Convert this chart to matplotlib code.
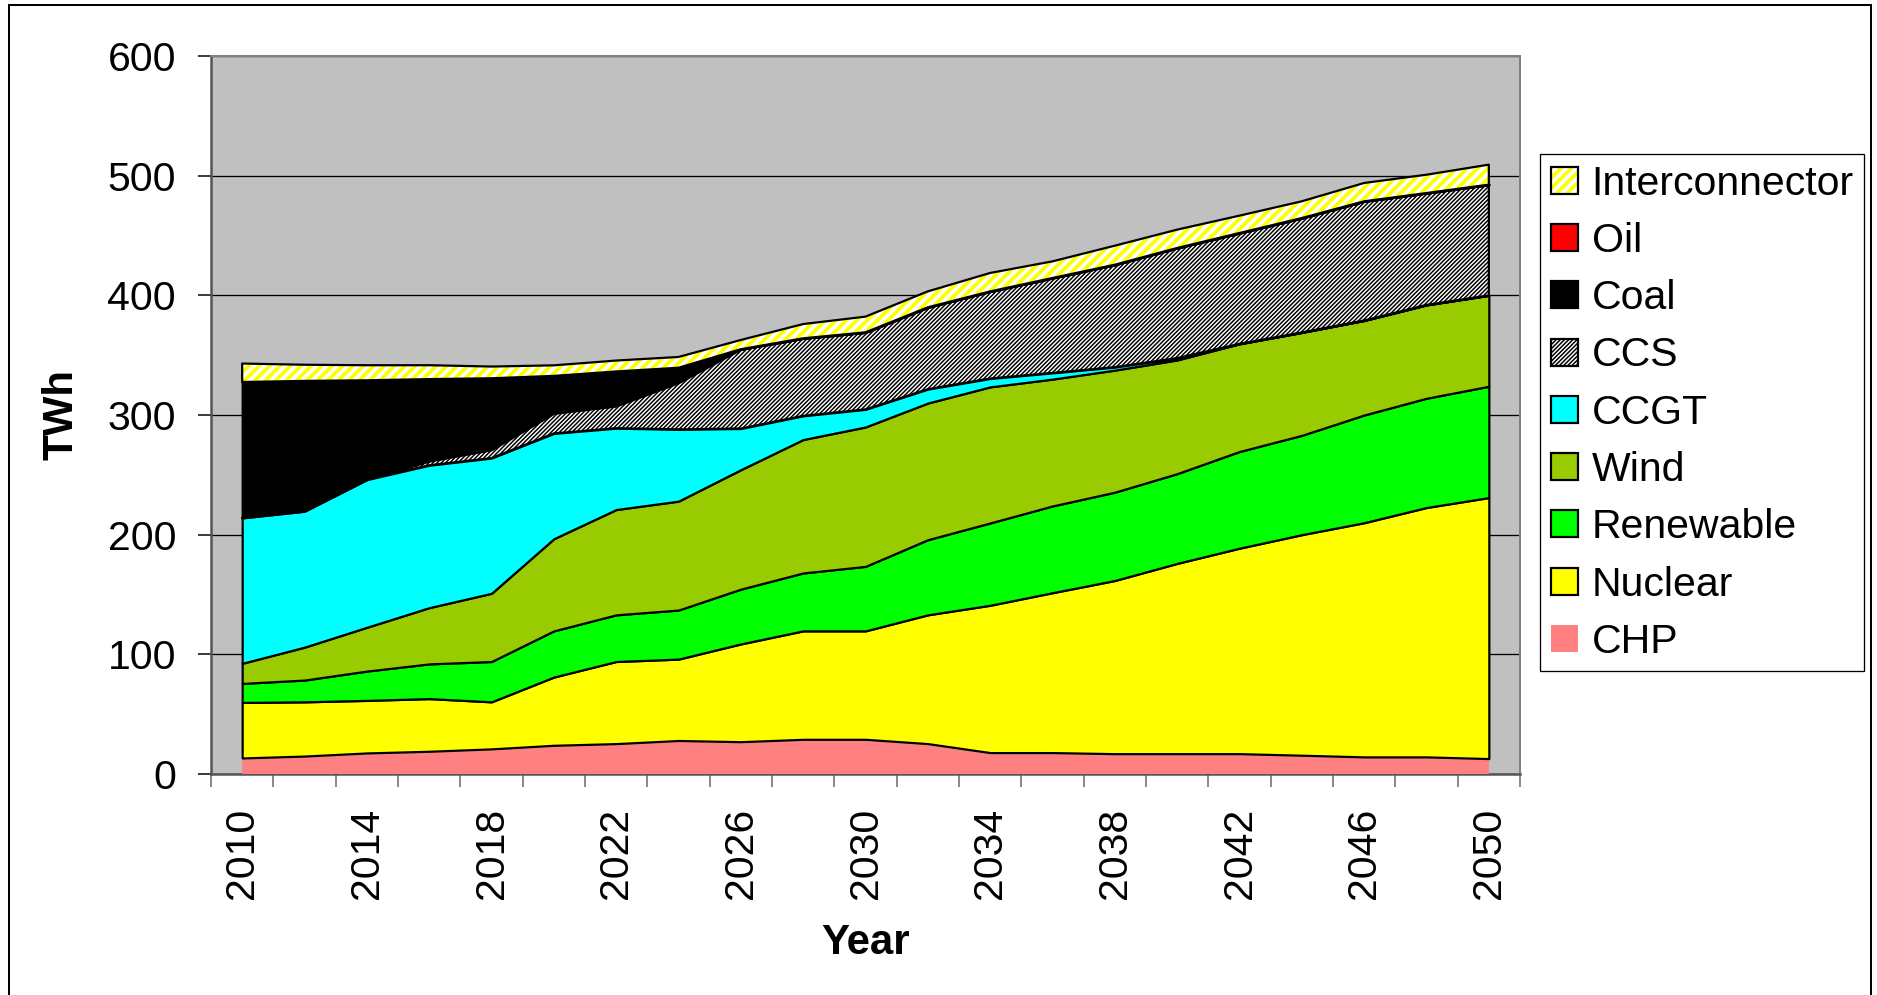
import matplotlib.pyplot as plt
import numpy as np
from matplotlib.patches import Patch, Rectangle
from matplotlib.legend_handler import HandlerTuple

W, H, DPI = 1877, 995, 125


def P(px):
    # pixels -> points at the output dpi
    return px * 72.0 / DPI


years = list(range(2010, 2051, 2))

chp = [13.4, 15.0, 17.6, 19.0, 21.0, 24.0, 25.4, 28.0, 27.0, 29.0, 29.0,
       25.4, 17.9, 17.9, 17.0, 17.0, 17.0, 15.7, 14.3, 14.3, 12.9]
nuclear = [46.4, 45.3, 43.9, 44.0, 39.3, 57.0, 68.6, 68.0, 81.7, 90.6, 90.6,
           107.6, 123.1, 133.6, 144.7, 159.0, 171.7, 184.3, 195.7, 208.4, 218.1]
renewable = [15.9, 18.2, 24.5, 29.0, 33.7, 38.6, 39.0, 41.0, 45.8, 48.4, 53.9,
             62.8, 68.8, 72.5, 73.8, 75.0, 80.8, 83.0, 90.0, 91.3, 93.0]
wind = [16.8, 27.5, 36.6, 47.0, 57.0, 77.0, 88.0, 91.0, 99.8, 111.5, 116.5,
        114.2, 113.7, 106.0, 102.0, 95.0, 90.0, 86.0, 79.0, 78.0, 76.0]
ccgt = [121.5, 113.6, 123.4, 119.0, 113.0, 88.0, 68.0, 60.0, 34.4, 19.8, 14.7,
        11.6, 7.0, 5.2, 2.5, 1.6, 0, 0, 0, 0, 0]
ccs = [0, 0, 0, 3.5, 7.0, 16.8, 18.5, 39.0, 66.3, 64.8, 64.4,
       68.4, 72.8, 79.3, 85.6, 92.0, 92.6, 95.6, 99.6, 93.5, 92.5]
coal = [113.6, 108.9, 83.0, 68.5, 59.7, 31.3, 28.9, 12.5, 0, 0, 0,
        0, 0, 0, 0, 0, 0, 0, 0, 0, 0]
oil = [0] * 21
interconnector = [15.4, 13.5, 12.6, 11.6, 9.8, 8.8, 9.1, 9.0, 7.7, 11.9, 13.1,
                  13.3, 15.4, 13.9, 15.9, 15.3, 14.5, 14.0, 15.3, 15.3, 16.7]

# name, values, colour, hatch (bottom to top)
layers = [
    ("CHP", chp, "#FF8080", None),
    ("Nuclear", nuclear, "#FFFF00", None),
    ("Renewable", renewable, "#00FF00", None),
    ("Wind", wind, "#99CC00", None),
    ("CCGT", ccgt, "#00FFFF", None),
    ("CCS", ccs, "black", "//////////"),
    ("Coal", coal, "black", None),
    ("Oil", oil, "#FF0000", None),
    ("Interconnector", interconnector, "#FFFF00", "////"),
]
# hatch stroke width in pixels
hatch_px = {"////": 3.8, "//////////": 1.5}

plt.rcParams['font.family'] = ['Liberation Sans', 'DejaVu Sans']

fig = plt.figure(figsize=(W / DPI, H / DPI), dpi=DPI)
ax = fig.add_axes([211 / W, 1 - 774 / H, (1520 - 211) / W, (774 - 56) / H])
ax.set_facecolor("#C0C0C0")

x = np.arange(len(years))
base = np.zeros(len(years))
edge_lw = P(2.2)
for name, vals, color, hatch in layers:
    top = base + np.array(vals, dtype=float)
    if hatch is None:
        ax.fill_between(x, base, top, facecolor=color,
                        edgecolor="none" if name == "CHP" else "black",
                        linewidth=0 if name == "CHP" else edge_lw, zorder=3)
    else:
        with plt.rc_context({"hatch.linewidth": P(hatch_px[hatch])}):
            ax.fill_between(x, base, top, facecolor="white", edgecolor=color,
                            linewidth=0, hatch=hatch, zorder=3)
        ax.fill_between(x, base, top, facecolor="none", edgecolor="black",
                        linewidth=edge_lw, zorder=3)
    base = top

ax.set_xlim(-0.5, len(years) - 0.5)
ax.set_ylim(0, 600)
ax.set_yticks(range(0, 601, 100))
ax.grid(axis="y", color="black", linewidth=P(1.3), zorder=1)
ax.set_axisbelow(True)

# category boundaries as major ticks, labels on every other category
ax.set_xticks(np.arange(-0.5, len(years), 1.0))
ax.set_xticklabels([])
ax.set_xticks(x[::2], minor=True)
ax.set_xticklabels([str(y) for y in years[::2]], minor=True, rotation=90)
ax.tick_params(axis="x", which="major", length=P(13), width=P(1.5), color="#666666", direction="out")
ax.tick_params(axis="x", which="minor", length=0, pad=P(34), labelsize=P(41))
ax.tick_params(axis="y", length=P(13), width=P(1.5), color="black", pad=P(22), labelsize=P(41))

for side in ["top", "right"]:
    ax.spines[side].set_color("#808080")
    ax.spines[side].set_linewidth(P(2))
for side in ["left", "bottom"]:
    ax.spines[side].set_color("#555555")
    ax.spines[side].set_linewidth(P(2.5))

ax.set_ylabel("TWh", fontsize=P(42), fontweight="bold", va="center")
ax.yaxis.set_label_coords((62 - 211) / (1520 - 211), 0.5)
ax.set_xlabel("Year", fontsize=P(42), fontweight="bold", va="center")
ax.xaxis.set_label_coords(0.5, (774 - 943) / (774 - 56))

# legend, top entry first
handles = []
labels = []
for name, vals, color, hatch in reversed(layers):
    if name == "Interconnector":
        h = (Patch(facecolor="white", edgecolor=color, linewidth=0, hatch=hatch),
             Patch(facecolor="none", edgecolor="black", linewidth=edge_lw))
    elif name == "CCS":
        h = Patch(facecolor="white", edgecolor="black", linewidth=edge_lw, hatch=hatch)
    elif name == "CHP":
        h = Patch(facecolor=color, edgecolor="none", linewidth=0)
    else:
        h = Patch(facecolor=color, edgecolor="black", linewidth=edge_lw)
    handles.append(h)
    labels.append(name)

leg = fig.legend(handles, labels, loc="upper left",
                 bbox_to_anchor=(1540 / W, 1 - 154 / H), bbox_transform=fig.transFigure,
                 borderaxespad=0, fontsize=P(41), handlelength=27 / 41, handleheight=26 / 41,
                 handletextpad=14 / 41, labelspacing=0.47, borderpad=0.26,
                 fancybox=False, framealpha=1, edgecolor="black",
                 handler_map={tuple: HandlerTuple(ndivide=1, pad=0)})
leg.get_frame().set_linewidth(P(1.3))
for art in leg.findobj(match=lambda a: isinstance(a, Patch) and a.get_hatch()):
    art.set_hatch_linewidth(P(hatch_px[art.get_hatch()]))

# chart border
fig.patches.append(Rectangle((9 / W, -0.01), (1871 - 9) / W, 1.01 - 5 / H,
                             transform=fig.transFigure, fill=False,
                             edgecolor="black", linewidth=P(2)))

fig.savefig("out.png", dpi=DPI)
